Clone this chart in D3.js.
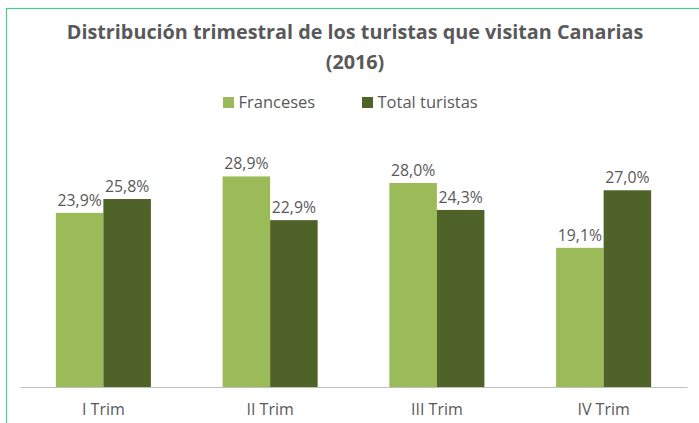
<!DOCTYPE html>
<html>
<head>
<meta charset="utf-8">
<script src="https://cdn.jsdelivr.net/npm/d3@7"></script>
<style>
  body { margin: 0; background: #fff; }
  svg text { font-family: "Open Sans", "Noto Sans", sans-serif; fill: #595959; }
</style>
</head>
<body>
<svg id="chart" width="699" height="423"></svg>
<script>
const categories = ['I Trim', 'II Trim', 'III Trim', 'IV Trim'];
const seriesNames = ['Franceses', 'Total turistas'];
const franceses = [23.9, 28.9, 28.0, 19.1];
const totalTuristas = [25.8, 22.9, 24.3, 27.0];

const colors = ['#9BBB59', '#4F6228'];
const width = 699, height = 423;
const margin = { left: 20, right: 12, top: 132, bottom: 36 };

const svg = d3.select('#chart');

// outer frame
svg.append('rect')
  .attr('x', 6.5).attr('y', 8.5)
  .attr('width', 720).attr('height', 440)
  .attr('fill', 'none')
  .attr('stroke', '#4CCB85')
  .attr('stroke-width', 1.2);

// title
const title = svg.append('text')
  .attr('text-anchor', 'middle')
  .attr('font-size', 19.8)
  .attr('font-weight', 'bold');
title.append('tspan').attr('x', 355).attr('y', 39)
  .text('Distribución trimestral de los turistas que visitan Canarias');
title.append('tspan').attr('x', 355).attr('y', 69).text('(2016)');

// legend
const legendX = [223, 362];
seriesNames.forEach((name, i) => {
  svg.append('rect')
    .attr('x', legendX[i]).attr('y', 97)
    .attr('width', 11).attr('height', 11)
    .attr('fill', colors[i]);
  svg.append('text')
    .attr('x', legendX[i] + 15.5).attr('y', 108)
    .attr('font-size', 16.5)
    .text(name);
});

const x0 = d3.scaleBand()
  .domain(categories)
  .range([margin.left, width - margin.right])
  .paddingInner(0)
  .paddingOuter(0);

const groupPad = 0.215;
const x1 = d3.scaleBand()
  .domain(seriesNames)
  .range([x0.bandwidth() * groupPad, x0.bandwidth() * (1 - groupPad)]);

const baseline = height - margin.bottom;
const y = d3.scaleLinear()
  .domain([0, 35])
  .range([baseline, margin.top]);

const data = categories.map((c, i) => ({
  cat: c,
  values: [franceses[i], totalTuristas[i]]
}));

const groups = svg.selectAll('.group')
  .data(data)
  .enter()
  .append('g')
  .attr('class', 'group')
  .attr('transform', d => `translate(${x0(d.cat)},0)`);

groups.selectAll('rect')
  .data(d => d.values.map((v, i) => ({ name: seriesNames[i], v, i })))
  .enter()
  .append('rect')
  .attr('x', d => x1(d.name))
  .attr('y', d => y(d.v))
  .attr('width', x1.bandwidth())
  .attr('height', d => baseline - y(d.v))
  .attr('fill', d => colors[d.i]);

groups.selectAll('.label')
  .data(d => d.values.map((v, i) => ({ name: seriesNames[i], v, i })))
  .enter()
  .append('text')
  .attr('class', 'label')
  .attr('x', d => x1(d.name) + x1.bandwidth() / 2)
  .attr('y', d => y(d.v) - 7)
  .attr('text-anchor', 'middle')
  .attr('font-size', 15.8)
  .text(d => d.v.toFixed(1).replace('.', ',') + '%');

// x axis
const xAxis = svg.append('g')
  .attr('transform', `translate(0,${baseline})`)
  .call(d3.axisBottom(x0).tickSize(0).tickPadding(17));
xAxis.select('.domain').attr('stroke', '#BFBFBF').attr('stroke-width', 1.2);
xAxis.selectAll('text')
  .attr('font-size', 16)
  .attr('fill', '#595959')
  .style('font-family', '"Open Sans", "Noto Sans", sans-serif');
</script>
</body>
</html>
